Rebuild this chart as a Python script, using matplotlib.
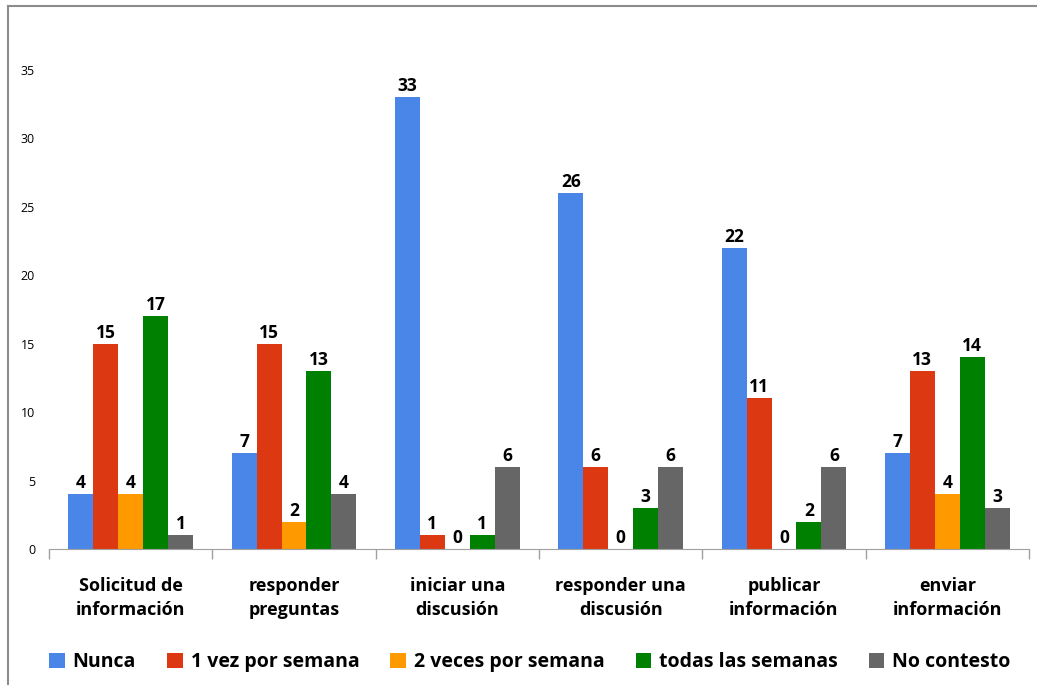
import numpy as np
import matplotlib
matplotlib.use('Agg')
from matplotlib import pyplot as plt
from matplotlib.lines import Line2D

categorias = ['Solicitud de\ninformación', 'responder\npreguntas', 'iniciar una\ndiscusión',
              'responder una\ndiscusión', 'publicar\ninformación', 'enviar\ninformación']
series = ['Nunca', '1 vez por semana', '2 veces por semana', 'todas las semanas', 'No contesto']
nunca = [4, 7, 33, 26, 22, 7]
una_vez = [15, 15, 1, 6, 11, 13]
dos_veces = [4, 2, 0, 0, 0, 4]
todas = [17, 13, 1, 3, 2, 14]
no_contesto = [1, 4, 6, 6, 6, 3]
colores = ['#4A86E8', '#DC3912', '#FF9900', '#008000', '#666666']

plt.rcParams['font.family'] = ['Open Sans', 'DejaVu Sans']

fig = plt.figure(figsize=(10.37, 6.85), dpi=100)
ax = fig.add_axes([49/1037, 1-549/685, (1029-49)/1037, (549-70)/685])

x = np.arange(len(categorias))
ancho = 0.153
datos = [nunca, una_vez, dos_veces, todas, no_contesto]
for i, (vals, col, nom) in enumerate(zip(datos, colores, series)):
    pos = x + (i - 2) * ancho
    barras = ax.bar(pos, vals, ancho, color=col, label=nom)
    for p, v in zip(pos, vals):
        ax.text(p, v + 0.15, str(v), ha='center', va='bottom', fontsize=12.5, fontweight='bold')

ax.set_xlim(-0.5, len(categorias) - 0.5)
ax.set_ylim(0, 35)
ax.set_yticks(range(0, 36, 5))
ax.tick_params(axis='y', length=0, labelsize=9, pad=10)
ax.set_xticks(x)
ax.set_xticklabels(categorias, fontsize=13, fontweight='bold', linespacing=1.45)
ax.tick_params(axis='x', which='major', length=0, pad=20)
ax.set_xticks(np.arange(-0.5, len(categorias)), minor=True)
ax.tick_params(axis='x', which='minor', length=7, color='#A0A0A0', width=1)
for s in ['top', 'right', 'left']:
    ax.spines[s].set_visible(False)
ax.spines['bottom'].set_color('#A0A0A0')

fig.legend(loc='center', bbox_to_anchor=(0.511, 1-662/685), ncol=5, frameon=False,
           prop={'size': 14, 'weight': 'bold'}, handlelength=0.8, handleheight=0.8,
           columnspacing=1.6, handletextpad=0.4)

# marco del grafico
fig.add_artist(Line2D([8/1037, 1], [1-6/685, 1-6/685], color='#8C8C8C', lw=1.5))
fig.add_artist(Line2D([8/1037, 8/1037], [0, 1-6/685], color='#8C8C8C', lw=1.5))

plt.savefig('out.png', dpi=100)
